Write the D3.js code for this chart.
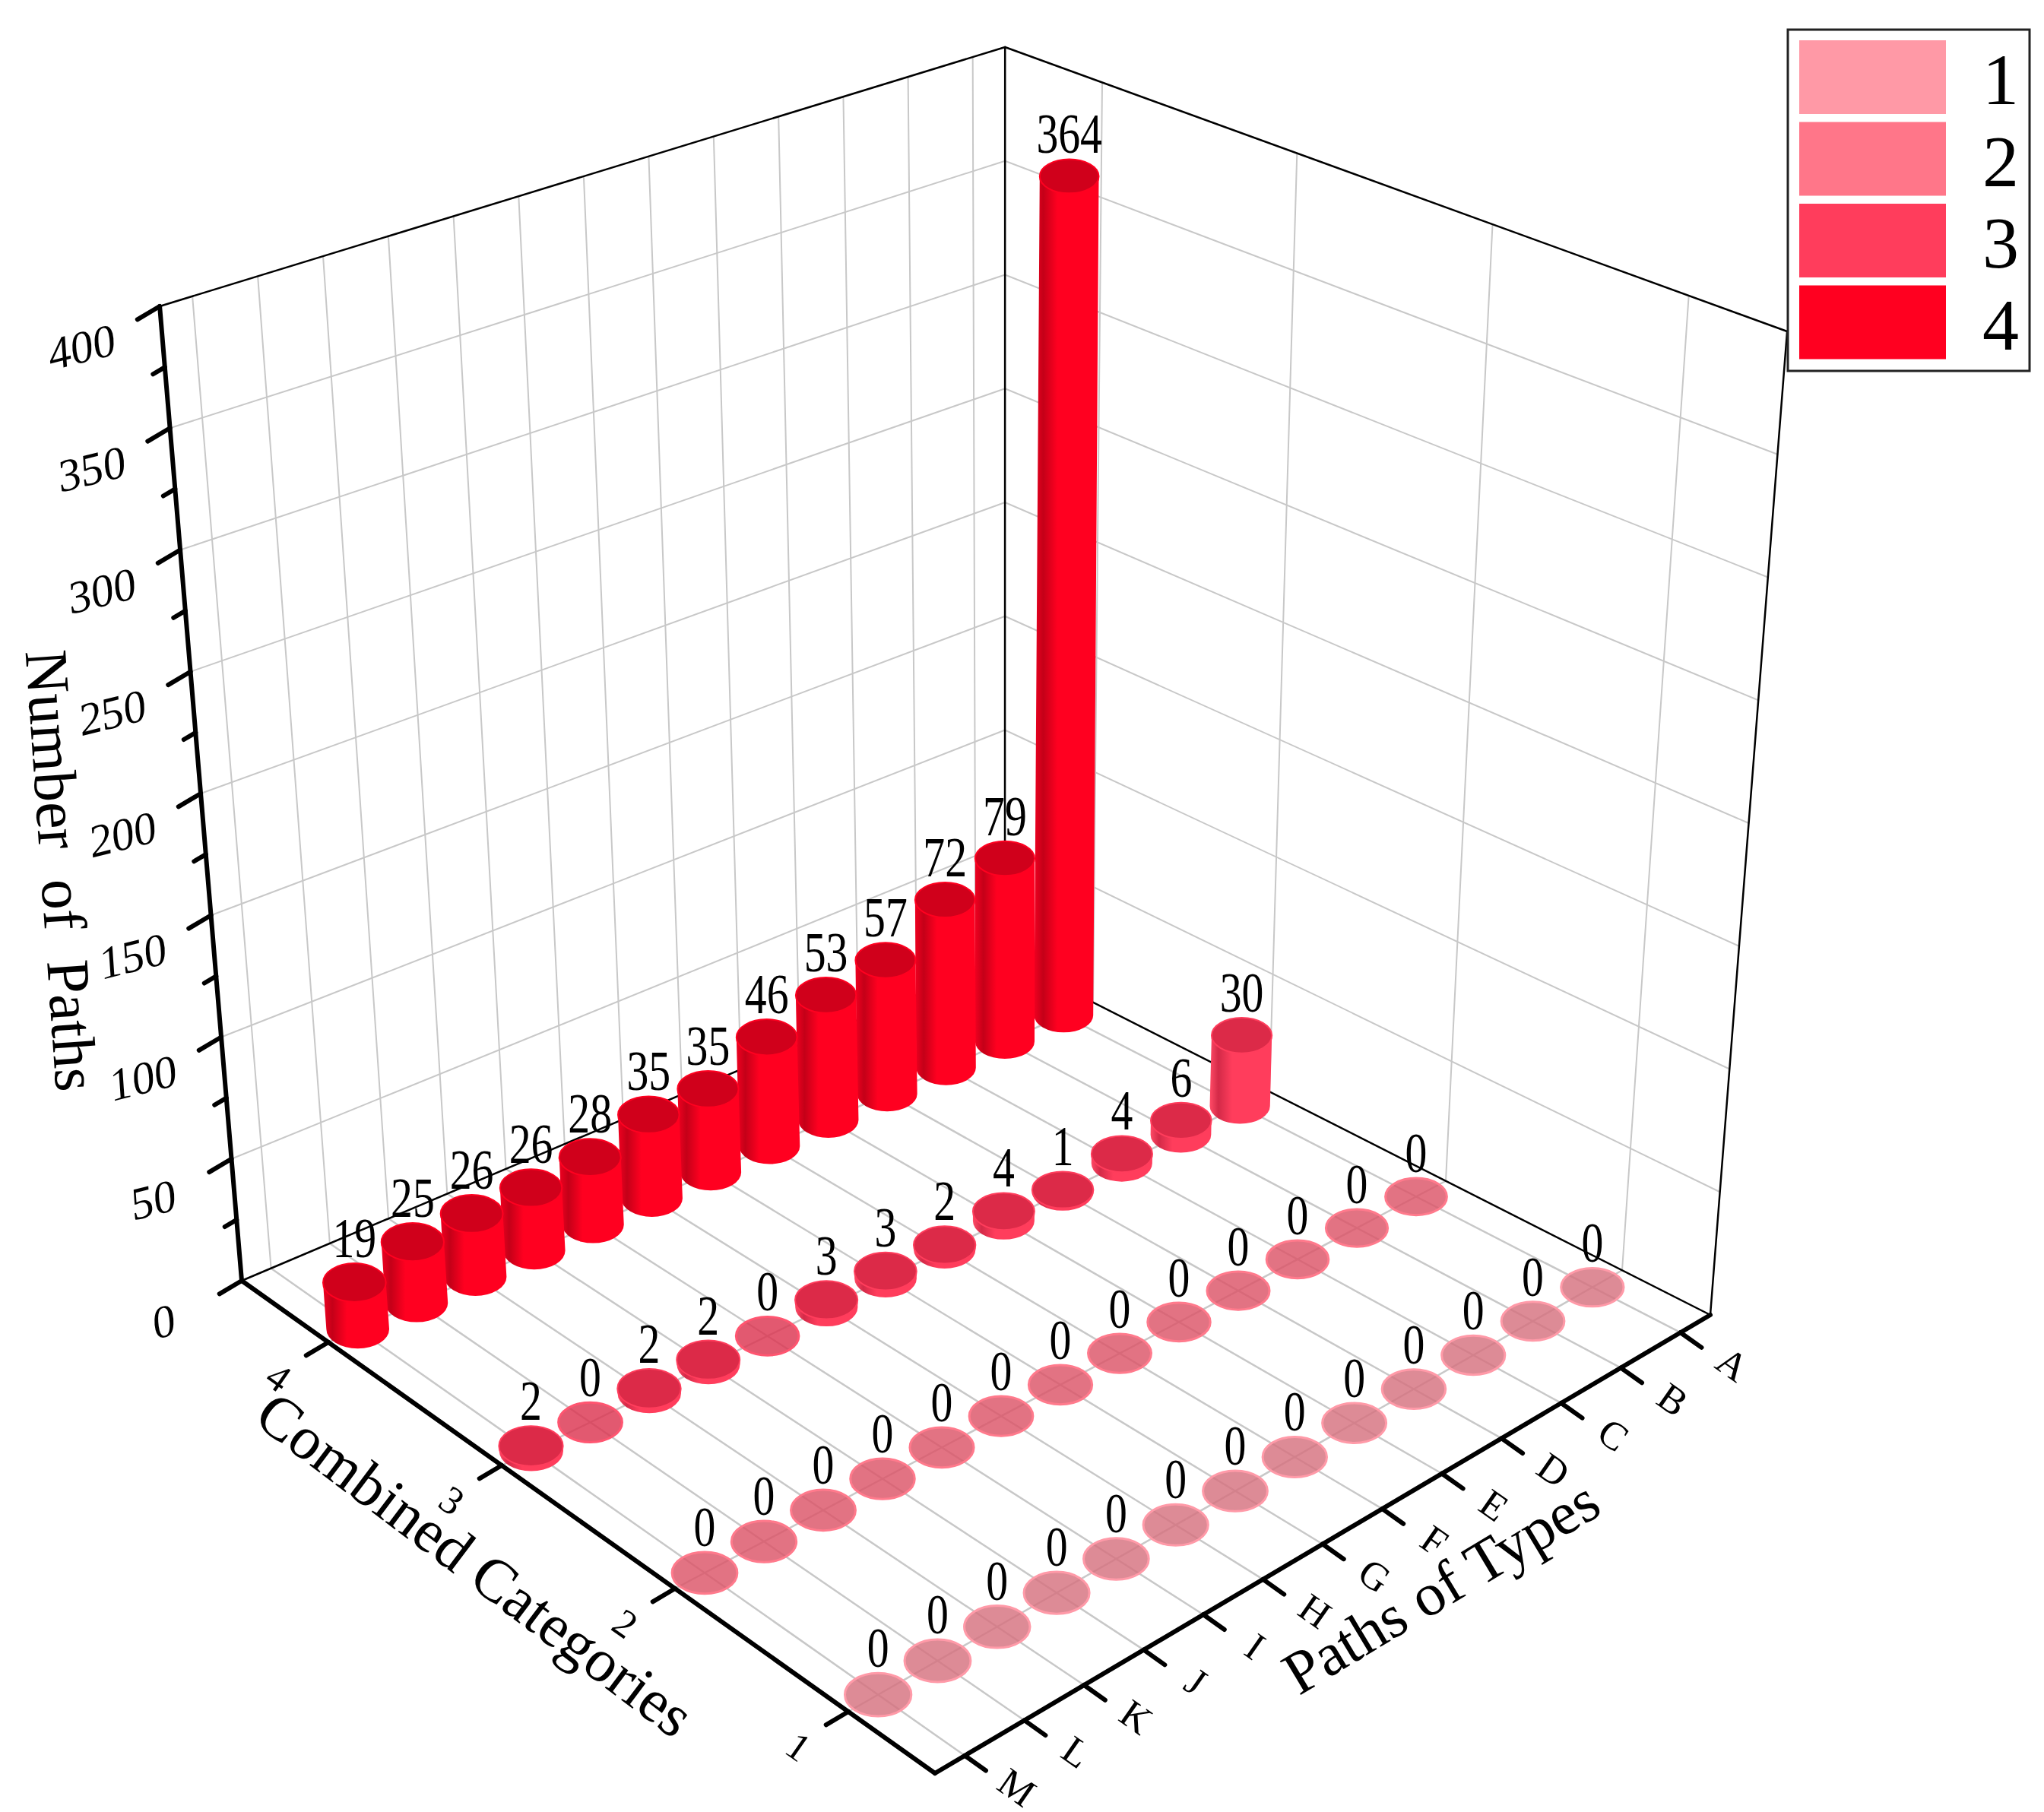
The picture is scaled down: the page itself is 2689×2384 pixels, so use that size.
<!DOCTYPE html>
<html><head><meta charset="utf-8">
<script src="https://cdn.jsdelivr.net/npm/d3@7"></script>
<style>body{margin:0;background:#fff}</style>
</head><body>
<script>
// ---- data ----
const paths = ["A","B","C","D","E","F","G","H","I","J","K","L","M"];
const categories = ["1","2","3","4"];
const cat1Values = [0,0,0,0,0,0,0,0,0,0,0,0,0];
const cat2Values = [0,0,0,0,0,0,0,0,0,0,0,0,0];
const cat3Values = [30,6,4,1,4,2,3,3,0,2,2,0,2];
const cat4Values = [364,79,72,57,53,46,35,35,28,26,26,25,19];
const zTicks = [0,50,100,150,200,250,300,350,400];
const legendLabels = ["1","2","3","4"];
const seriesValues = [cat1Values,cat2Values,cat3Values,cat4Values];

// ---- geometry ----
const W=2689,H=2384;
const Fc=[1230,2333],Rc=[2250,1730],Lc=[318,1685],Bc=[1322,1260];
const pF=3.445,pR=3.235,pL=3.205,pB=2.995;
const sScale=d3.scalePoint().domain(paths).range([1,0]).padding(0.5);
const tScale=d3.scalePoint().domain(categories).range([0,1]).padding(0.5);
const zScale=d3.scaleLinear().domain([0,400]).range([0,400]);
function bil(a,b,c,d,s,t){return a+s*(b-a)+t*(c-a)+s*t*(d-c-b+a);}
function ground(s,t){return [bil(Fc[0],Rc[0],Lc[0],Bc[0],s,t),bil(Fc[1],Rc[1],Lc[1],Bc[1],s,t)];}
function ppu(s,t){return bil(pF,pR,pL,pB,s,t);}
function P(s,t,z){const g=ground(s,t);const h=zScale(z)*ppu(s,t);return [g[0]+(g[0]-1320)*h*8.4e-5,g[1]-h];}

const svg=d3.select("body").append("svg").attr("width",W).attr("height",H)
  .style("font-family","'Liberation Serif','DejaVu Serif',serif");
const defs=svg.append("defs");
const gridC="#c8c8c8";
function line(g,a,b,col,w){g.append("line").attr("x1",a[0]).attr("y1",a[1]).attr("x2",b[0]).attr("y2",b[1]).attr("stroke",col).attr("stroke-width",w).attr("stroke-linecap","round");}

const gGrid=svg.append("g");
zTicks.slice(1,-1).forEach(z=>line(gGrid,P(0,1,z),P(1,1,z),gridC,2));
paths.forEach(p=>line(gGrid,P(sScale(p),1,0),P(sScale(p),1,400),gridC,2));
zTicks.slice(1,-1).forEach(z=>line(gGrid,P(1,0,z),P(1,1,z),gridC,2));
categories.forEach(c=>line(gGrid,P(1,tScale(c),0),P(1,tScale(c),400),gridC,2));
paths.forEach(p=>line(gGrid,P(sScale(p),0,0),P(sScale(p),1,0),gridC,2.5));
categories.forEach(c=>line(gGrid,P(0,tScale(c),0),P(1,tScale(c),0),gridC,2.5));
const gBox=svg.append("g");
line(gBox,P(0,1,0),P(1,1,0),"#000",2.5);
line(gBox,P(1,1,0),P(1,0,0),"#000",2.5);
line(gBox,P(1,1,0),P(1,1,400),"#000",2.5);
line(gBox,P(0,1,400),P(1,1,400),"#000",2.5);
line(gBox,P(1,1,400),P(1,0,400),"#000",2.5);
line(gBox,P(1,0,400),P(1,0,0),"#000",2.5);

const catStyle=[
 {zero:"#d5717f",zeroStroke:"#ff9aa8",top:"#d5717f",side:["#f2889a","#d5717f","#ff99a6"]},
 {zero:"#dc5468",zeroStroke:"#ff7a8c",top:"#dc5468",side:["#f06a7e","#d05064","#ff7689"]},
 {zero:"#dc3451",zeroStroke:"#ff5570",top:"#dc2a48",side:["#ff4a66","#d42a48","#ff3d5c"]},
 {zero:"#d2001b",zeroStroke:"#ff2040",top:"#d0001b",side:["#f00020","#c40018","#ff0020"]}
];
catStyle.forEach((c,i)=>{
  const lg=defs.append("linearGradient").attr("id","side"+i).attr("x1","0").attr("x2","1").attr("y1","0").attr("y2","0");
  lg.append("stop").attr("offset","0").attr("stop-color",c.side[0]);
  lg.append("stop").attr("offset","0.14").attr("stop-color",c.side[1]);
  lg.append("stop").attr("offset","0.36").attr("stop-color",c.side[2]);
  lg.append("stop").attr("offset","1").attr("stop-color",c.side[2]);
});

const bars=[];
categories.forEach((c,j)=>paths.forEach((p,i)=>{
  const s=sScale(p),t=tScale(c);
  bars.push({s,t,j,v:seriesValues[j][i],gy:ground(s,t)[1]});
}));
bars.sort((a,b)=>a.gy-b.gy);
const gBars=svg.append("g");
bars.forEach(d=>{
  const b=P(d.s,d.t,0),tp=P(d.s,d.t,d.v);
  const sc=ppu(d.s,d.t)/3.2, rx=41*sc, ry=25*sc*sc;
  const st=catStyle[d.j];
  if(d.v>0){
    gBars.append("path").attr("d",`M${tp[0]-rx},${tp[1]} L${b[0]-rx},${b[1]} A${rx},${ry} 0 0 0 ${b[0]+rx},${b[1]} L${tp[0]+rx},${tp[1]} Z`)
      .attr("fill",`url(#side${d.j})`);
    gBars.append("ellipse").attr("cx",tp[0]).attr("cy",tp[1]).attr("rx",rx).attr("ry",ry)
      .attr("fill",st.top).attr("stroke",st.side[2]).attr("stroke-width",2);
  } else {
    gBars.append("ellipse").attr("cx",b[0]).attr("cy",b[1]).attr("rx",rx).attr("ry",ry)
      .attr("fill",st.zero).attr("fill-opacity",0.82).attr("stroke",st.zeroStroke).attr("stroke-width",3);
  }
  gBars.append("text").attr("transform",`translate(${tp[0]},${tp[1]-ry-8}) scale(0.78,1)`)
    .attr("text-anchor","middle").attr("font-size",74).text(d.v);
});

const gAx=svg.append("g");
const dirS=(()=>{const dx=Fc[0]-Rc[0],dy=Fc[1]-Rc[1],n=Math.hypot(dx,dy);return [dx/n,dy/n];})();
const dirT=(()=>{const dx=Fc[0]-Lc[0],dy=Fc[1]-Lc[1],n=Math.hypot(dx,dy);return [dx/n,dy/n];})();
line(gAx,P(0,1,0),P(0,1,400),"#000",6);
line(gAx,P(0,1,0),P(0,0,0),"#000",6);
line(gAx,P(0,0,0),P(1,0,0),"#000",6);
d3.range(0,401,25).forEach(z=>{
  const p=P(0,1,z),len=z%50===0?34:18;
  line(gAx,p,[p[0]+dirS[0]*len,p[1]+dirS[1]*len],"#000",6);
});
zTicks.forEach(z=>{
  const p=P(0,1,z);
  gAx.append("text").attr("transform",`translate(${p[0]+dirS[0]*118},${p[1]+dirS[1]*118}) rotate(-14)`)
    .attr("text-anchor","middle").attr("dominant-baseline","middle").attr("font-size",60)
    .attr("font-style","italic").text(z);
});
categories.forEach(c=>{
  const p=P(0,tScale(c),0);
  line(gAx,p,[p[0]+dirS[0]*34,p[1]+dirS[1]*34],"#000",6);
  gAx.append("text").attr("transform",`translate(${p[0]+dirS[0]*80},${p[1]+dirS[1]*80+10}) rotate(35)`)
    .attr("text-anchor","middle").attr("dominant-baseline","middle").attr("font-size",52).text(c);
});
paths.forEach(p0=>{
  const p=P(sScale(p0),0,0);
  line(gAx,p,[p[0]+dirT[0]*34,p[1]+dirT[1]*34],"#000",6);
  gAx.append("text").attr("transform",`translate(${p[0]+dirT[0]*80},${p[1]+dirT[1]*80}) rotate(35)`)
    .attr("text-anchor","middle").attr("dominant-baseline","middle").attr("font-size",52).text(p0);
});
svg.append("text").attr("transform","translate(72,1146) rotate(86)").attr("text-anchor","middle")
  .attr("dominant-baseline","middle").attr("font-size",80).text("Number\u00a0 of\u00a0 Paths");
svg.append("text").attr("transform","translate(620,2065) rotate(37)").attr("text-anchor","middle")
  .attr("dominant-baseline","middle").attr("font-size",80).text("Combined Categories");
svg.append("text").attr("transform","translate(1900,2095) rotate(-31)").attr("text-anchor","middle")
  .attr("dominant-baseline","middle").attr("font-size",80).text("Paths of Types");

const colors=["#ff99a6","#ff7689","#ff3d5c","#ff0020"];
const gL=svg.append("g");
gL.append("rect").attr("x",2352).attr("y",39).attr("width",318).attr("height",449).attr("fill","#fff").attr("stroke","#222").attr("stroke-width",3);
legendLabels.forEach((l,i)=>{
  gL.append("rect").attr("x",2367).attr("y",53+i*107.5).attr("width",193).attr("height",97).attr("fill",colors[i]);
  gL.append("text").attr("x",2632).attr("y",53+i*107.5+84).attr("text-anchor","middle").attr("font-size",96).text(l);
});
</script>
</body></html>
